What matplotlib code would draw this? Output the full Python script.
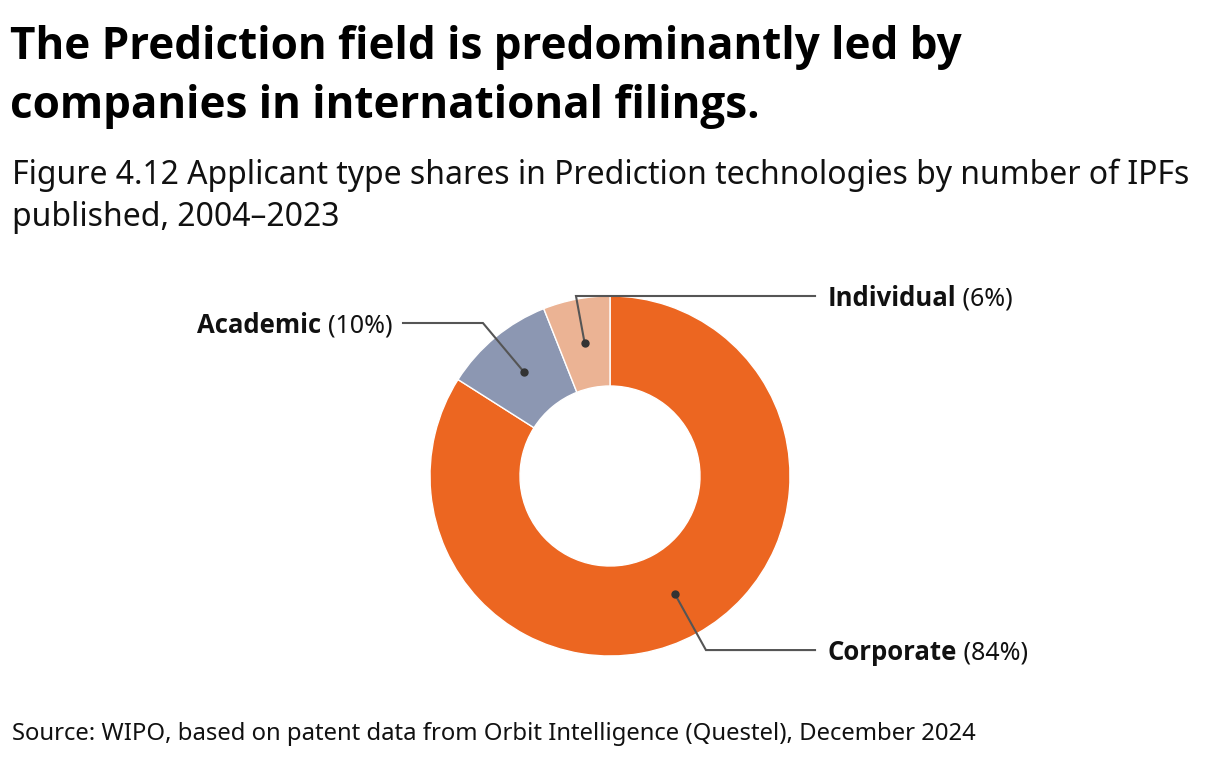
import matplotlib.pyplot as plt
import numpy as np

plt.rcParams['font.family'] = ['Noto Sans', 'DejaVu Sans']
BOLD = ['Open Sans', 'DejaVu Sans']

### data ###
categories = ['Corporate', 'Academic', 'Individual']
shares = [84, 10, 6]
colors = ['#EC6621', '#8C97B2', '#EBB394']

title = "The Prediction field is predominantly led by\ncompanies in international filings."
subtitle = "Figure 4.12 Applicant type shares in Prediction technologies by number of IPFs\npublished, 2004\u20132023"
source = "Source: WIPO, based on patent data from Orbit Intelligence (Questel), December 2024"

W, H = 1220, 758
fig = plt.figure(figsize=(W / 100, H / 100), dpi=100)

fig.text(10 / W, 1 - 25 / H, title, fontsize=31.7, fontweight='bold', family=BOLD,
         va='top', ha='left', linespacing=1.42, color='#000000')
fig.text(12 / W, 1 - 159 / H, subtitle, fontsize=23, va='top', ha='left',
         linespacing=1.36, color='#111111')
fig.text(12 / W, 1 - 746 / H, source, fontsize=17.2, va='bottom', ha='left', color='#111111')

# pie axes: centre (610, 476) px, radius 180 px
cx, cy, r = 610, 476, 180
ax = fig.add_axes([(cx - r) / W, 1 - (cy + r) / H, 2 * r / W, 2 * r / H])
wedges, _ = ax.pie(shares, colors=colors, startangle=90, counterclock=False,
                   wedgeprops=dict(width=0.5, edgecolor='white', linewidth=1))
ax.set_xlim(-1, 1)
ax.set_ylim(-1, 1)
ax.set_aspect('equal')
ax.axis('off')

# leader lines: elbow point, end x, label side
layout = {
    'Corporate': ((0.533, -0.967), 1.139, 'right'),
    'Academic': ((-0.706, 0.85), -1.15, 'left'),
    'Individual': ((-0.189, 1.0), 1.139, 'right'),
}

for w, cat, val in zip(wedges, categories, shares):
    ang = np.deg2rad((w.theta1 + w.theta2) / 2)
    px, py = 0.75 * np.cos(ang), 0.75 * np.sin(ang)
    (ex, ey), endx, side = layout[cat]
    ax.plot([px, ex, endx], [py, ey, ey], color='#555555', lw=1.5, clip_on=False,
            solid_joinstyle='miter')
    ax.plot(px, py, 'o', color='#333333', ms=5, clip_on=False)
    ty = ey - 0.055
    if side == 'right':
        t = ax.text(endx + 0.07, ty, cat, fontsize=18.5, fontweight='bold', family=BOLD,
                    ha='left', va='baseline', color='#111111')
        ax.annotate(" (%d%%)" % val, xy=(1, ty), xycoords=(t, 'data'), fontsize=18,
                    ha='left', va='baseline', color='#111111')
    else:
        t = ax.text(endx - 0.06, ty, "(%d%%)" % val, fontsize=18, ha='right',
                    va='baseline', color='#111111')
        ax.annotate(cat + " ", xy=(0, ty), xycoords=(t, 'data'), fontsize=18.5,
                    fontweight='bold', family=BOLD, ha='right', va='baseline',
                    color='#111111')

fig.savefig('out.png', dpi=100)
